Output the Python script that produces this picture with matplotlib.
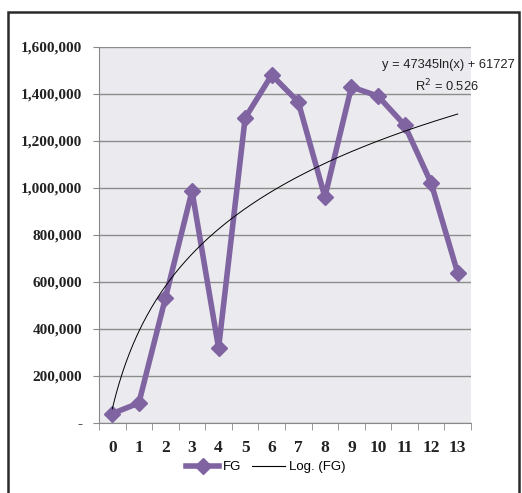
import numpy as np
import matplotlib
matplotlib.use("Agg")
import matplotlib.pyplot as plt
from matplotlib.patches import Rectangle
from matplotlib.lines import Line2D
from matplotlib.ticker import FuncFormatter

categories = list(range(14))
fg_values = [40000, 85000, 532000, 987000, 319000, 1298000, 1481000,
             1366000, 962000, 1430000, 1391000, 1268000, 1021000, 638000]
y_ticks = [0, 200000, 400000, 600000, 800000, 1000000, 1200000, 1400000, 1600000]
eq_text = "y = 47345ln(x) + 61727"
r2_text = "R$^2$ = 0.526"

purple = "#8064A2"
W, H = 522, 493
fig = plt.figure(figsize=(W / 100, H / 100), dpi=100)
fig.patch.set_facecolor("white")

# outer frame (open at bottom)
fig.patches.append(Rectangle((8 / W, -0.05), (519 - 8) / W, (H - 12) / H + 0.05,
                             transform=fig.transFigure, fill=False,
                             edgecolor="#2a2a2a", linewidth=1.8))

ax = fig.add_axes([99 / W, 1 - 423 / H, (471 - 99) / W, (423 - 47) / H])
ax.set_facecolor("#EBEBEF")

# log trendline fitted from data (x = 1..14)
xs = np.array(categories) + 1
coef = np.polyfit(np.log(xs), np.array(fg_values, dtype=float), 1)
xt = np.linspace(1, 14, 300)
yt = coef[0] * np.log(xt) + coef[1]

ax.plot(categories, fg_values, color=purple, linewidth=4.0, marker="D",
        markersize=8, markeredgecolor=purple, zorder=3)
ax.plot(xt - 1, yt, color="black", linewidth=0.7, zorder=4)

ax.set_xlim(-0.5, 13.5)
ax.set_ylim(0, 1600000)
ax.set_yticks(y_ticks)
ax.yaxis.set_major_formatter(FuncFormatter(lambda v, p: "-" if v == 0 else f"{int(v):,}"))
ax.set_xticks(categories)
ax.set_xticks(np.arange(-0.5, 14, 1), minor=True)
ax.tick_params(axis="x", which="major", length=0, pad=12)
ax.tick_params(axis="x", which="minor", length=5, color="#888888", direction="out")
ax.tick_params(axis="y", length=4, color="#888888", pad=8)
serif = ["Liberation Serif", "DejaVu Serif"]
for lab in ax.get_yticklabels():
    lab.set_family(serif)
    lab.set_fontsize(11)
    lab.set_fontweight("bold")
    lab.set_color("#222222")
for lab in ax.get_xticklabels():
    lab.set_family(serif)
    lab.set_fontsize(12.5)
    lab.set_fontweight("bold")
    lab.set_color("#222222")

ax.grid(axis="y", color="#8c8c8c", linewidth=1.0)
ax.set_axisbelow(True)
for s in ["top", "right"]:
    ax.spines[s].set_visible(False)
ax.spines["left"].set_color("#888888")
ax.spines["bottom"].set_color("#888888")

narrow = ["Liberation Sans Narrow", "Liberation Sans", "DejaVu Sans"]
fig.text(515 / W, 1 - 65 / H, eq_text, ha="right", va="center",
         fontsize=9.3, family=narrow, color="#222222")
fig.text(479 / W, 1 - 86 / H, r2_text, ha="right", va="center",
         fontsize=9.3, family=narrow, color="#222222")

handles = [Line2D([0], [0], color=purple, linewidth=4.0, marker="D", markersize=8),
           Line2D([0], [0], color="black", linewidth=0.8)]
leg = fig.legend(handles, ["FG", "Log. (FG)"], loc="center",
                 bbox_to_anchor=(266 / W, 1 - 467 / H), ncol=2, frameon=False,
                 prop={"family": narrow, "size": 9.5}, handlelength=2.5,
                 columnspacing=0.8, handletextpad=0.3)

fig.savefig("out.png", dpi=100, facecolor="white")
